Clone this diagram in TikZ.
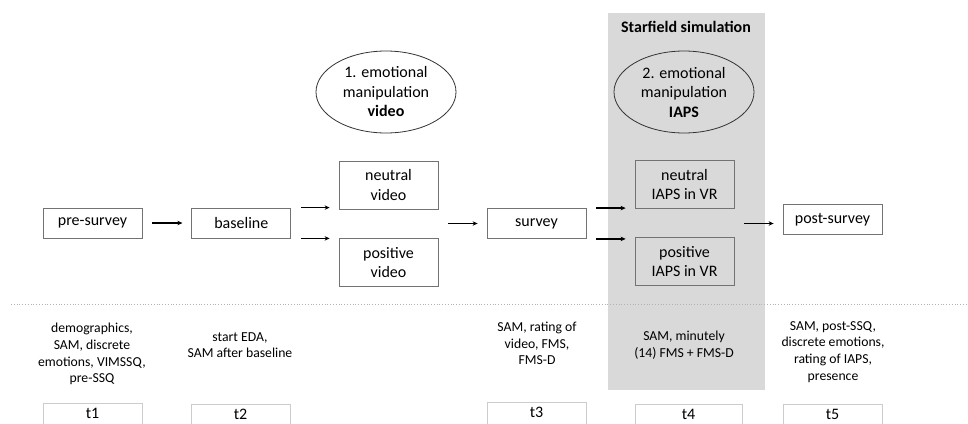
\documentclass[tikz,border=0pt]{standalone}
\usepackage{fontspec}
\setmainfont{Carlito}
\usetikzlibrary{arrows.meta,positioning,shapes.geometric}

\begin{document}
\begin{tikzpicture}[x=1pt, y=-1pt,
font=\fontsize{16}{19.5}\selectfont,
stagebox/.style={draw=black!55, line width=0.8pt, minimum width=99pt, minimum height=30pt, inner sep=0pt, align=center},
splitbox/.style={stagebox, minimum height=48pt},
tbox/.style={draw=black!20, line width=0.8pt, minimum width=99pt, minimum height=22pt, inner sep=0pt, text height=8pt, text depth=0pt, anchor=north},
manip/.style={draw=black!80, line width=0.8pt, ellipse, minimum width=140pt, minimum height=82pt, inner sep=0pt, align=center},
measure/.style={font=\fontsize{13.7}{16.7}\selectfont, align=center},
arr/.style={-{Stealth[length=5pt,width=4.5pt]}, line width=1.6pt, shorten <=10pt, shorten >=9pt}
]
\useasboundingbox (0,0) rectangle (968,423);

\fill[black!15] (608,13) rectangle (765,390);
\node[font=\fontsize{16}{19.5}\selectfont\bfseries] (sim) at (686,27) {Starfield simulation};

\node[manip] (man1) at (386,92) {1. emotional\\manipulation\\\textbf{video}};
\node[manip] (man2) at (684,92) {2. emotional\\manipulation\\\textbf{IAPS}};

\node[stagebox] (pre) at (92.5,223) {pre-survey};
\node[stagebox, right=49pt of pre] (base) {baseline};
\node[splitbox] (nvid) at (388.5,185) {neutral\\video};
\node[splitbox] (pvid) at (388.5,262.5) {positive\\video};
\node[stagebox] (surv) at (536.5,223.5) {survey};
\node[splitbox] (niaps) at (684.5,184.5) {neutral\\IAPS in VR};
\node[splitbox] (piaps) at (684.5,261.5) {positive\\IAPS in VR};
\node[stagebox] (post) at (832.5,219.5) {post-survey};

\draw[arr] (pre) -- (base);
\draw[arr] (base.north east) -- (base.north east -| nvid.west);
\draw[arr] (base.south east) -- (base.south east -| pvid.west);
\draw[arr] (nvid.east |- surv.west) -- (surv.west);
\draw[arr] (surv.north east) -- (surv.north east -| niaps.west);
\draw[arr] (surv.south east) -- (surv.south east -| piaps.west);
\draw[arr] (niaps.east |- surv.east) -- (post.west |- surv.east);

\coordinate (sepL) at (11,304);
\coordinate (sepR) at (968,304);
\draw[black!30, dotted, line width=0.8pt] (sepL) -- (sepR);

\node[measure] (m1) at (92,354) {demographics,\\SAM, discrete\\emotions, VIMSSQ,\\pre-SSQ};
\node[measure] (m2) at (240,345) {start EDA,\\SAM after baseline};
\node[measure] (m3) at (537,343.5) {SAM, rating of\\video, FMS,\\FMS-D};
\node[measure] (m4) at (684,345) {SAM, minutely\\(14) FMS + FMS-D};
\node[measure] (m5) at (833,352) {SAM, post-SSQ,\\discrete emotions,\\rating of IAPS,\\presence};

\node[tbox] (t1) at (92.5,403) {t1};
\node[tbox] (t2) at (240.5,404) {t2};
\node[tbox] (t3) at (536.5,402) {t3};
\node[tbox, minimum width=107pt] (t4) at (688.5,404) {t4};
\node[tbox] (t5) at (832.5,404) {t5};
\end{tikzpicture}
\end{document}
